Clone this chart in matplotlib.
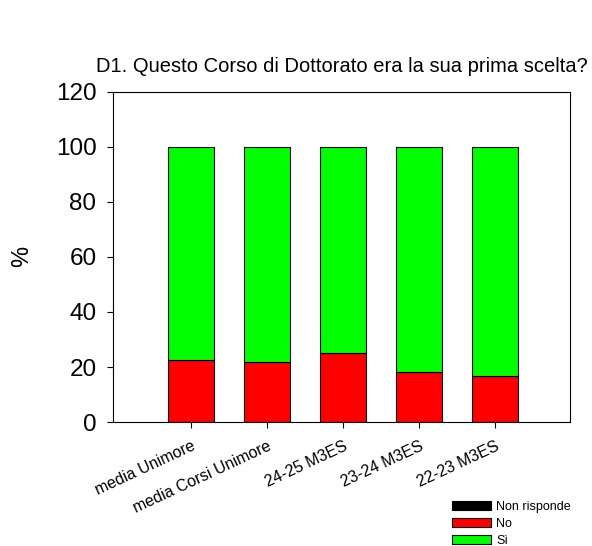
import numpy as np
import matplotlib.pyplot as plt

plt.rcParams['font.family'] = ['Liberation Sans', 'DejaVu Sans']

categories = ["media Unimore", "media Corsi Unimore", "24-25 M3ES", "23-24 M3ES", "22-23 M3ES"]
non_risponde = [0, 0, 0, 0, 0]
no = [22.5, 21.7, 25.0, 18.3, 16.7]
si = [77.5, 78.3, 75.0, 81.7, 83.3]

x = np.arange(len(categories))
w = 0.6

fig = plt.figure(figsize=(5.92, 5.46), dpi=100)
ax = fig.add_axes([0.191, 0.227, 0.772, 0.605])

b0 = ax.bar(x, non_risponde, w, color='black', edgecolor='black', linewidth=0.8, label='Non risponde')
b1 = ax.bar(x, no, w, bottom=non_risponde, color='#ff0000', edgecolor='black', linewidth=0.8, label='No')
b2 = ax.bar(x, si, w, bottom=np.add(non_risponde, no), color='#00ff00', edgecolor='black', linewidth=0.8, label='Sì')

ax.set_xlim(-1.03, 4.99)
ax.set_ylim(0, 120)
ax.set_yticks(range(0, 121, 20))
ax.set_xticks(x)
ax.set_xticklabels(categories, rotation=25, ha='right', rotation_mode='anchor', fontsize=11.5)
ax.tick_params(axis='y', labelsize=17.5, direction='out', length=4, pad=8)
ax.tick_params(axis='x', direction='out', length=4, pad=8)
ax.set_ylabel('%', fontsize=17, labelpad=16)
ax.set_title('D1. Questo Corso di Dottorato era la sua prima scelta?', fontsize=14.5, pad=14)

fig.legend(handles=[b0, b1, b2], loc='upper left', bbox_to_anchor=(0.764, 0.083),
           frameon=False, fontsize=9, handlelength=3.1, handleheight=0.8,
           labelspacing=0.4, handletextpad=0.4, borderaxespad=0, borderpad=0)

fig.savefig('out.png', dpi=100)
